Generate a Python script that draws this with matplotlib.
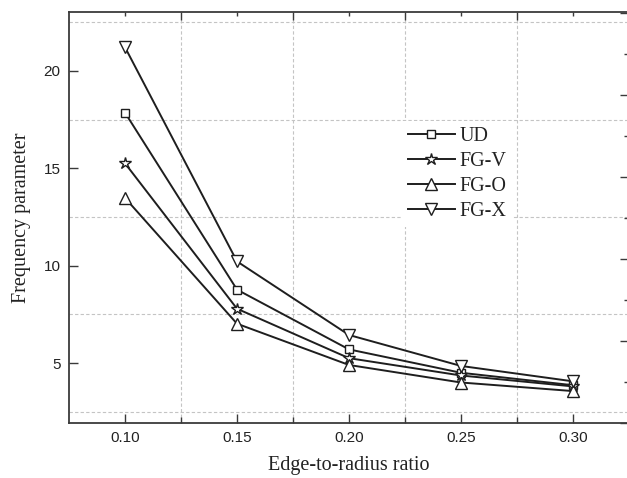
import matplotlib
matplotlib.use("Agg")
import matplotlib.pyplot as plt
from matplotlib.ticker import MultipleLocator, FixedLocator, NullFormatter

ratios = [0.10, 0.15, 0.20, 0.25, 0.30]
ud   = [17.86, 8.77, 5.70, 4.50, 3.86]
fg_v = [15.26, 7.79, 5.25, 4.36, 3.80]
fg_o = [13.48, 7.02, 4.90, 4.00, 3.56]
fg_x = [21.22, 10.22, 6.44, 4.85, 4.06]
labels = ["UD", "FG-V", "FG-O", "FG-X"]
xticks = [0.10, 0.15, 0.20, 0.25, 0.30]
yticks = [5, 10, 15, 20]

W, H = 627, 478
fig = plt.figure(figsize=(W / 100, H / 100), dpi=100)
L, R, B, T = 69, 629, 423, 12
ax = fig.add_axes([L / W, (H - B) / H, (R - L) / W, (B - T) / H])

lc = "#1e1e1e"
series = [(ud, "s", 6.3), (fg_v, "*", 9.0), (fg_o, "^", 8.6), (fg_x, "v", 8.6)]
for (vals, mk, ms), lab in zip(series, labels):
    ax.plot(ratios, vals, color=lc, lw=1.4, marker=mk, ms=ms,
            mfc="white", mec=lc, mew=1.0, label=lab, zorder=3)

ax.set_xlim(0.075, 0.325)
ax.set_ylim(1.92, 23.03)
ax.xaxis.set_major_locator(FixedLocator(xticks))
ax.xaxis.set_minor_locator(FixedLocator([0.125, 0.175, 0.225, 0.275]))
ax.yaxis.set_major_locator(FixedLocator(yticks))
ax.yaxis.set_minor_locator(FixedLocator([2.5, 7.5, 12.5, 17.5, 22.5]))
ax.set_xticklabels(["%.2f" % v for v in xticks])
ax.grid(True, which="minor", color="#c4c4c4", lw=0.8, ls=(0, (3, 2)), zorder=0)
ax.grid(False, which="major")

spc = "#3a3a3a"
for s in ax.spines.values():
    s.set_color(spc)
    s.set_linewidth(1.3)

ax.tick_params(which="major", direction="in", length=6.5, width=1.0, color=spc,
               top=False, right=False, labelsize=11, labelcolor="#222222", pad=6)
ax.tick_params(which="minor", direction="in", length=4.5, width=1.0, color=spc,
               top=False, right=False)
ax.tick_params(axis="y", which="minor", length=0)
for t in ax.get_xticklabels() + ax.get_yticklabels():
    t.set_fontfamily("Liberation Sans")

# top ticks
axt = ax.twiny()
axt.set_xlim(ax.get_xlim())
axt.xaxis.set_major_locator(FixedLocator([0.125, 0.175, 0.225, 0.275]))
axt.xaxis.set_minor_locator(FixedLocator(xticks))
axt.xaxis.set_major_formatter(NullFormatter())
axt.tick_params(which="major", direction="in", length=5.5, width=1.0, color=spc)
axt.tick_params(which="minor", direction="in", length=3, width=1.0, color=spc)
for s in axt.spines.values():
    s.set_visible(False)

# right ticks
axr = ax.twinx()
axr.set_ylim(0, 5.01)
axr.yaxis.set_major_locator(MultipleLocator(1))
axr.yaxis.set_minor_locator(MultipleLocator(0.5))
axr.yaxis.set_major_formatter(NullFormatter())
axr.tick_params(which="major", direction="in", length=6.5, width=1.0, color=spc)
axr.tick_params(which="minor", direction="in", length=3.5, width=1.0, color=spc)
for s in axr.spines.values():
    s.set_visible(False)

ax.set_xlabel("Edge-to-radius ratio", fontfamily="Liberation Serif", fontsize=14.5,
              color="#222222", labelpad=8)
ax.set_ylabel("Frequency parameter", fontfamily="Liberation Serif", fontsize=14.5,
              color="#222222", labelpad=9)

leg = ax.legend(loc="center left", bbox_to_anchor=(0.595, 0.606), frameon=True,
                fancybox=False, edgecolor="none", facecolor="white", framealpha=1,
                prop={"family": "Liberation Serif", "size": 14.5}, handlelength=2.3,
                handletextpad=0.25, labelspacing=0.3, borderpad=0.3,
                borderaxespad=0)
leg.set_zorder(5)
for t in leg.get_texts():
    t.set_color("#222222")

fig.savefig("out.png", dpi=100)
